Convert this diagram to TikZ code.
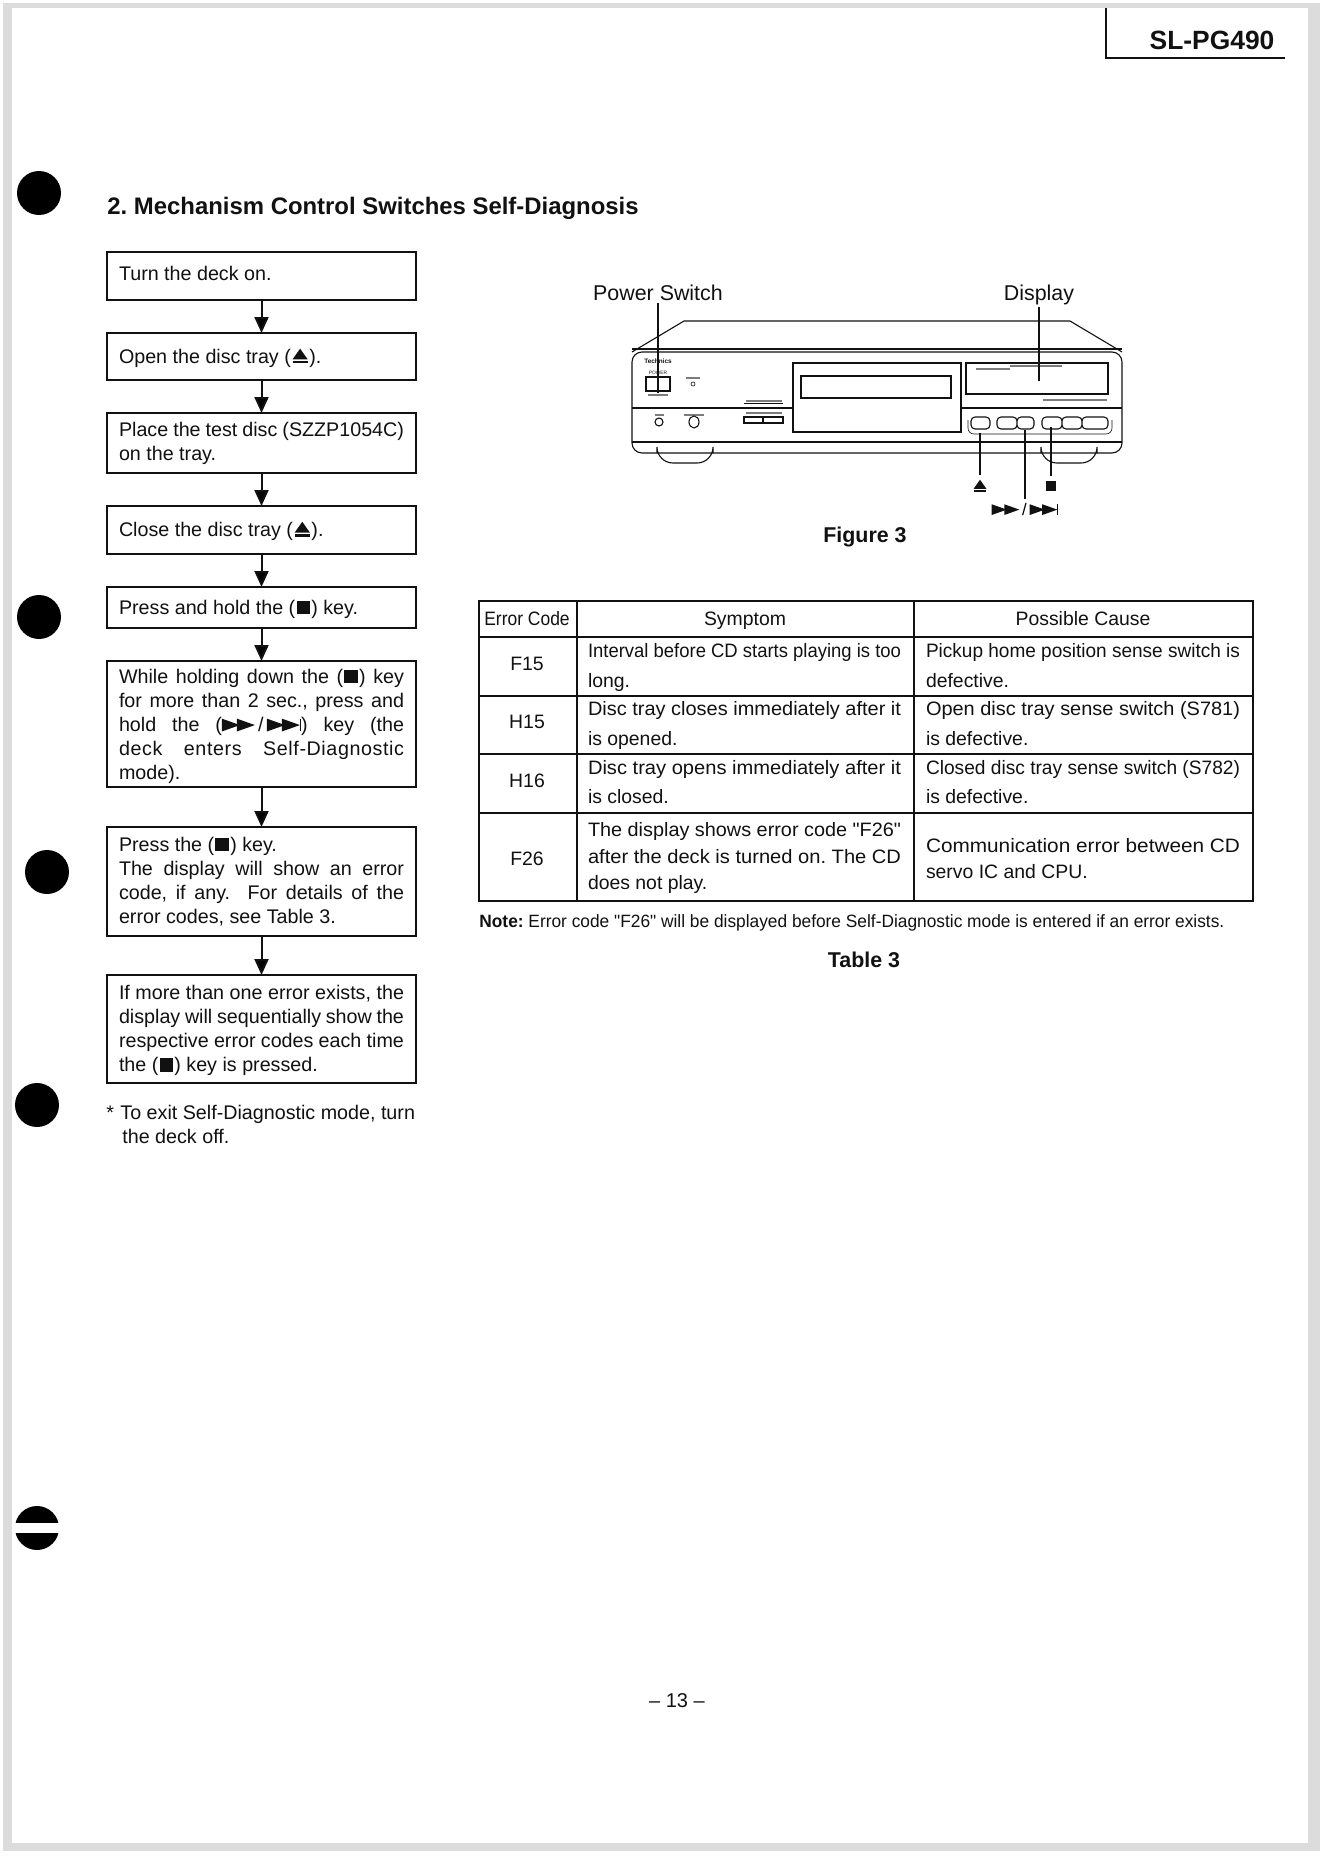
\documentclass[tikz,border=0pt]{standalone}
\usepackage{fontspec}
\usepackage{graphicx}
\setmainfont{Liberation Sans}[Ligatures=TeXOff]
\usetikzlibrary{arrows.meta}
\frenchspacing
\definecolor{pageedge}{HTML}{DCDCDC}
\definecolor{ink}{HTML}{111111}
\newcommand{\stopkey}{\kern0.6pt\tikz[x=1pt,y=1pt,baseline=0pt]\fill[ink] (0,0) rectangle (6.8,6.8);\kern0.6pt}
\newcommand{\ejectkey}{\kern0.8pt\tikz[x=1pt,y=1pt,baseline=0pt]{\fill[ink] (0,2) -- (7.6,2) -- (3.8,7.4) -- cycle; \fill[ink] (0,0) rectangle (7.6,1.1);}\kern0.8pt}
\newcommand{\ffkey}{\tikz[x=1pt,y=1pt,baseline=0pt]{\fill[ink] (0,0) -- (0,6.4) -- (9,3.2) -- cycle; \fill[ink] (7.5,0) -- (7.5,6.4) -- (16.5,3.2) -- cycle;}}
\newcommand{\skipkey}{\tikz[x=1pt,y=1pt,baseline=0pt]{\fill[ink] (0,0) -- (0,6.4) -- (9,3.2) -- cycle; \fill[ink] (7.5,0) -- (7.5,6.4) -- (16.5,3.2) -- cycle; \fill[ink] (16.5,0) rectangle (17.1,6.4);}}
\newcommand{\jline}[1]{\makebox[142.5pt][s]{#1}}
\newcommand{\wideline}[1]{\makebox[142.5pt][s]{\addfontfeature{LetterSpace=3}#1}}
\newcommand{\symline}[1]{\resizebox{156.5pt}{\height}{#1}}
\newcommand{\causeline}[1]{\resizebox{157pt}{\height}{#1}}
\tikzset{
  flowbox/.style={draw=ink,line width=1.1pt,anchor=north west,minimum width=154.5pt,minimum height=#1,
                  inner xsep=6pt,inner ysep=0pt,outer sep=0pt,text width=142.5pt,align=flush left,
                  font=\fontsize{9.85}{12}\selectfont,text=ink},
  flowarrow/.style={-{Triangle[length=8pt,width=7pt]},line width=1pt,draw=ink},
  leader/.style={line width=0.8pt,draw=ink},
  deckline/.style={line width=0.55pt,draw=ink},
  deckthin/.style={line width=0.3pt,draw=ink},
  microprint/.style={line width=0.7pt,draw=ink!55},
  tickrule/.style={line width=0.9pt,draw=ink},
  celltext/.style={anchor=base west,inner sep=0pt,outer sep=0pt,font=\fontsize{9.7}{12}\selectfont,text=ink},
  cellmid/.style={anchor=base,inner sep=0pt,outer sep=0pt,font=\fontsize{9.7}{12}\selectfont,text=ink},
  boldcap/.style={anchor=base,inner sep=0pt,outer sep=0pt,font=\bfseries\fontsize{10.7}{12}\selectfont,text=ink},
  figlabel/.style={inner sep=0pt,outer sep=0pt,font=\fontsize{10.7}{14}\selectfont,text=ink},
}
\begin{document}
\begin{tikzpicture}[x=0.5pt,y=-0.5pt]
  \useasboundingbox (0,0) rectangle (1320,1857);
  \fill[pageedge] (3,3) rectangle (1320,1851);
  \fill[white] (12,8) rectangle (1308,1843);
  % hole marks
  \foreach \hx/\hy in {39/193,39/617,47/872,37/1105,37/1528}{ \fill[black] (\hx,\hy) circle (22); }
  \fill[white] (12,1523) rectangle (70,1533);
  % page header
  \draw[tickrule] (1106,8) -- (1106,58) -- (1285,58);
  \node[anchor=base,inner sep=0pt,font=\bfseries\fontsize{13.2}{14}\selectfont,text=ink] (model) at (1212,50) {SL-PG490};
  \node[anchor=base west,inner sep=0pt,font=\bfseries\fontsize{11.95}{14}\selectfont,text=ink] (heading) at (107,214) {2. Mechanism Control Switches Self-Diagnosis};
  % flow chart
  \node[flowbox=24pt,text depth=2.6pt]   (deckon)  at (107,252) {Turn the deck on.};
  \node[flowbox=23.5pt,text height=9pt]  (opentray) at (107,333) {Open the disc tray (\ejectkey).};
  \node[flowbox=30pt]   (testdisc) at (107,413) {\jline{Place the test disc (SZZP1054C)}\\on the tray.};
  \node[flowbox=24pt,text height=8.6pt]  (closetray) at (107,506) {Close the disc tray (\ejectkey).};
  \node[flowbox=20.5pt,text height=9pt]  (holdstop) at (107,587) {Press and hold the (\stopkey) key.};
  \node[flowbox=63pt,text height=9.5pt]  (enterdiag) at (107,661) {\jline{While holding down the (\stopkey) key}\\\jline{for more than 2 sec., press and}\\\jline{hold the (\ffkey\,/\,\skipkey) key (the}\\\wideline{deck enters Self-Diagnostic}\\mode).};
  \node[flowbox=54.5pt] (pressstop) at (107,827) {Press the (\stopkey) key.\\\jline{The display will show an error}\\\jline{code, if any.\ \ For details of the}\\error codes, see Table 3.};
  \node[flowbox=54pt,text height=8.6pt]  (nexterror) at (107,975) {\jline{If more than one error exists, the}\\\jline{display will sequentially show the}\\\jline{respective error codes each time}\\the (\stopkey) key is pressed.};
  \draw[flowarrow] (deckon) -- (opentray);
  \draw[flowarrow] (opentray) -- (testdisc);
  \draw[flowarrow] (testdisc) -- (closetray);
  \draw[flowarrow] (closetray) -- (holdstop);
  \draw[flowarrow] (holdstop) -- (enterdiag);
  \draw[flowarrow] (enterdiag) -- (pressstop);
  \draw[flowarrow] (pressstop) -- (nexterror);
  \node[anchor=north west,inner sep=0pt,align=flush left,font=\fontsize{9.85}{12}\selectfont,text=ink] (exitnote) at (106,1105) {*\hspace{3.2pt}To exit Self-Diagnostic mode, turn\\\hspace*{8pt}the deck off.};
  % deck front view
  \draw[deckline] (632,352) -- (684,321) -- (1070,321) -- (1122,352);
  \draw[deckline] (632,349) -- (1122,349);
  \draw[deckline,rounded corners=5pt] (632,352) -- (632,453) -- (1122,453) -- (1122,352) -- cycle;
  \draw[deckline] (632,408) -- (793,408) (961,408) -- (1122,408);
  \draw[deckline] (632,442) -- (1122,442);
  \draw[deckline,rounded corners=8pt] (657,453) -- (657,463) -- (713,463) -- (713,453);
  \draw[deckline,rounded corners=8pt] (1041,453) -- (1041,463) -- (1097,463) -- (1097,453);
  \draw[deckline] (793,363) rectangle (961,432);
  \draw[line width=0.8pt,draw=ink] (801,376) rectangle (951,398);
  \draw[deckline] (966,363) rectangle (1108,394);
  \node[anchor=center,inner sep=0pt,font=\bfseries\fontsize{3.2}{4}\selectfont,text=ink] (brand) at (658,361) {Technics};
  \node[anchor=center,inner sep=0pt,font=\fontsize{2.4}{3}\selectfont,text=ink] (powerword) at (658,373) {POWER};
  \node[draw=ink,line width=0.7pt,minimum width=12pt,minimum height=7pt,inner sep=0pt,outer sep=0pt] (powerkey) at (658,384) {};
  \draw[microprint] (648,395) -- (668,395) (686,378) -- (700,378) (746,401) -- (782,401) (746,413) -- (782,413) (655,415) -- (664,415) (684,415) -- (704,415) (1043,400) -- (1107,400) (976,369) -- (1010,369) (1010,366) -- (1062,366);
  \draw[deckthin] (693,384) circle (2);
  \draw[deckline] (659,422) circle (4);
  \draw[deckline] (694,422) ellipse (5 and 6);
  \draw[deckthin] (744,403) -- (783,403);
  \draw[deckline] (744,417) rectangle (763,423) (763,417) rectangle (783,423);
  \draw[deckline,rounded corners=2pt] (971,417) rectangle (990,429);
  \draw[deckline,rounded corners=2pt] (997,417) rectangle (1017,429) (1017,417) rectangle (1034,429);
  \draw[deckline,rounded corners=2pt] (1042,417) rectangle (1062,429) (1062,417) rectangle (1082,429) (1082,417) rectangle (1108,429);
  \draw[deckthin,rounded corners=3pt] (968,420) -- (968,434) -- (1112,434) -- (1112,420);
  % labels round the deck
  \node[figlabel,anchor=base] (powerlabel) at (658,300) {Power Switch};
  \node[figlabel,anchor=base] (displaylabel) at (1039,300) {Display};
  \coordinate (powerend) at (658,393);
  \coordinate (displayend) at (1039,381);
  \coordinate (ejectkeypt) at (980,433);
  \coordinate (skipkeypt) at (1025,430);
  \coordinate (stopkeypt) at (1051,427);
  \node[inner sep=0pt,outer sep=2.5pt] (ejectsign) at (980,486) {\scalebox{0.85}{\ejectkey}};
  \node[inner sep=0pt,outer sep=2.5pt] (stopsign) at (1051,486) {\scalebox{0.8}{\stopkey}};
  \node[inner sep=0pt,outer sep=2pt] (skipsign) at (1025,509) {\scalebox{0.84}{\ffkey\,/\,\skipkey}};
  \draw[leader] (powerlabel.south) ++(0,3) -- (powerend);
  \draw[leader] (displaylabel.south) ++(0,3) -- (displayend);
  \draw[leader] (ejectkeypt) -- (ejectsign);
  \draw[leader] (skipkeypt) -- (skipsign);
  \draw[leader] (stopkeypt) -- (stopsign);
  \node[boldcap] (figcap) at (865,542) {Figure 3};
  % table of error codes
  \draw[line width=1.1pt,draw=ink] (479,601) rectangle (1253,901);
  \foreach \ry in {637,696,754,813}{ \draw[line width=0.8pt,draw=ink] (479,\ry) -- (1253,\ry); }
  \foreach \cx in {577,914}{ \draw[line width=0.8pt,draw=ink] (\cx,601) -- (\cx,901); }
  \node[cellmid] (headcode) at (527,625) {\scalebox{0.9}[1]{Error Code}};
  \node[cellmid] (headsym) at (745,625) {Symptom};
  \node[cellmid] (headcause) at (1083,625) {Possible Cause};
  \foreach \n/\y in {F15/670,H15/728,H16/787,F26/865}{ \node[cellmid] (code\n) at (527,\y) {\n}; }
  \node[celltext] (symA) at (588,657) {\symline{Interval before CD starts playing is too}};
  \node[celltext] (symB) at (588,687) {long.};
  \node[celltext] (symC) at (588,715) {\symline{Disc tray closes immediately after it}};
  \node[celltext] (symD) at (588,745) {is opened.};
  \node[celltext] (symE) at (588,774) {\symline{Disc tray opens immediately after it}};
  \node[celltext] (symF) at (588,803) {is closed.};
  \node[celltext] (symG) at (588,836) {\symline{The display shows error code "F26"}};
  \node[celltext] (symH) at (588,863) {\symline{after the deck is turned on. The CD}};
  \node[celltext] (symI) at (588,889) {does not play.};
  \node[celltext] (causeA) at (926,657) {\causeline{Pickup home position sense switch is}};
  \node[celltext] (causeB) at (926,687) {defective.};
  \node[celltext] (causeC) at (926,715) {\causeline{Open disc tray sense switch (S781)}};
  \node[celltext] (causeD) at (926,745) {is defective.};
  \node[celltext] (causeE) at (926,774) {\causeline{Closed disc tray sense switch (S782)}};
  \node[celltext] (causeF) at (926,803) {is defective.};
  \node[celltext] (causeG) at (926,852) {\causeline{Communication error between CD}};
  \node[celltext] (causeH) at (926,878) {servo IC and CPU.};
  \node[anchor=base west,inner sep=0pt,font=\fontsize{8.9}{11}\selectfont,text=ink] (tablenote) at (479,927) {\resizebox{372.5pt}{\height}{\textbf{Note:} Error code "F26" will be displayed before Self-Diagnostic mode is entered if an error exists.}};
  \node[boldcap] (tablecap) at (864,967) {Table 3};
  \node[anchor=base,inner sep=0pt,font=\fontsize{10}{12}\selectfont,text=ink] (pageno) at (677,1707) {– 13 –};
\end{tikzpicture}
\end{document}
